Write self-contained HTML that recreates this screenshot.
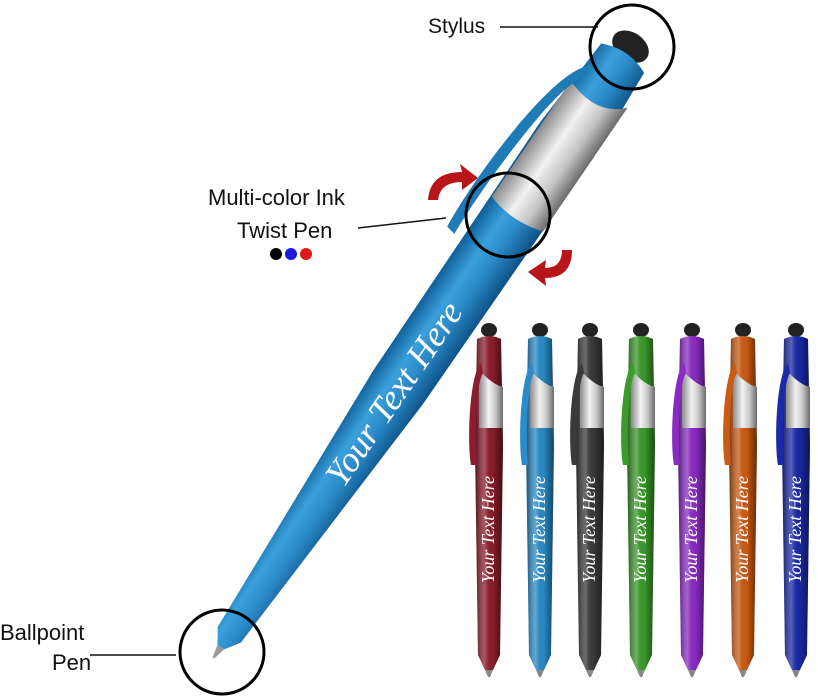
<!DOCTYPE html>
<html><head><meta charset="utf-8"><style>
html,body{margin:0;padding:0;background:#fff;}
svg{display:block;}
.lbl{font-family:"Liberation Sans",sans-serif;}
.pt{font-family:"Liberation Serif",serif;font-style:italic;fill:#fff;}
</style></head><body>
<svg width="818" height="700" viewBox="0 0 818 700" xmlns="http://www.w3.org/2000/svg">
<defs>
<linearGradient id="blue" x1="0" x2="1" y1="0" y2="0">
<stop offset="0" stop-color="#0d5c95"/><stop offset="0.35" stop-color="#3aa0dc"/><stop offset="0.6" stop-color="#2b8bc9"/><stop offset="1" stop-color="#0b4f82"/></linearGradient>
<linearGradient id="silver" x1="0" x2="1"><stop offset="0" stop-color="#8a8a8a"/><stop offset="0.4" stop-color="#f2f2f2"/><stop offset="0.7" stop-color="#c4c4c4"/><stop offset="1" stop-color="#6a6a6a"/></linearGradient>
<linearGradient id="shade" x1="0" x2="1"><stop offset="0" stop-color="#000" stop-opacity="0.45"/><stop offset="0.35" stop-color="#fff" stop-opacity="0.25"/><stop offset="0.6" stop-color="#000" stop-opacity="0"/><stop offset="1" stop-color="#000" stop-opacity="0.5"/></linearGradient>
<g id="mini">
 <ellipse cx="0" cy="5" rx="8" ry="7" fill="#222"/>
 <path d="M-12,14 Q0,8 12,14 L14,120 L11,330 L4,345 L-4,345 L-11,330 L-14,120 Z" fill="currentColor"/>
 <path d="M-12,14 Q0,8 12,14 L14,120 L11,330 L4,345 L-4,345 L-11,330 L-14,120 Z" fill="url(#shade)"/>
 <path d="M-10,45 Q4,60 14,62 L14,103 L-10,103 Z" fill="url(#silver)"/>
 <path d="M-8,38 C-20,50 -22,120 -18,140 L-12,140 C-14,120 -14,60 -6,48 Z" fill="currentColor"/>
 <path d="M-4,345 L4,345 L1,352 L-1,352 Z" fill="#888"/>
</g>
</defs>

<!-- main pen -->
<g transform="translate(635,40) rotate(34.3)">
 <ellipse cx="0" cy="8" rx="20" ry="14" fill="#222"/>
 <path d="M-26,22 Q0,10 26,22 L32,120 L30,420 L14,720 L4,735 L-4,735 L-14,720 L-30,420 L-32,120 Z" fill="url(#blue)"/>
 <path d="M-30,70 Q10,85 32,60 L32,210 Q0,220 -30,210 Z" fill="url(#silver)"/>
 <path d="M-20,45 C-50,60 -56,200 -50,260 L-40,262 C-44,200 -38,90 -26,70 Z" fill="#1f7ab8"/>
 <path d="M-4,735 L4,735 L1,748 L-1,748 Z" fill="#999"/>
 <text class="pt" x="-535" y="12" transform="rotate(-90)" font-size="36">Your Text Here</text>
</g>

<!-- mini pens -->
<g transform="translate(489,325)"><use href="#mini" color="#8c1c2c"/><text class="pt" x="-258" y="5" transform="rotate(-90)" font-size="18">Your Text Here</text></g>
<g transform="translate(540,325)"><use href="#mini" color="#2a8cc8"/><text class="pt" x="-258" y="5" transform="rotate(-90)" font-size="18">Your Text Here</text></g>
<g transform="translate(590,325)"><use href="#mini" color="#3a3a3a"/><text class="pt" x="-258" y="5" transform="rotate(-90)" font-size="18">Your Text Here</text></g>
<g transform="translate(641,325)"><use href="#mini" color="#3a9a2a"/><text class="pt" x="-258" y="5" transform="rotate(-90)" font-size="18">Your Text Here</text></g>
<g transform="translate(692,325)"><use href="#mini" color="#8a2ac4"/><text class="pt" x="-258" y="5" transform="rotate(-90)" font-size="18">Your Text Here</text></g>
<g transform="translate(743,325)"><use href="#mini" color="#cc5a12"/><text class="pt" x="-258" y="5" transform="rotate(-90)" font-size="18">Your Text Here</text></g>
<g transform="translate(796,325)"><use href="#mini" color="#1a2aa8"/><text class="pt" x="-258" y="5" transform="rotate(-90)" font-size="18">Your Text Here</text></g>

<!-- labels -->
<text class="lbl" x="428" y="33" font-size="21" fill="#111">Stylus</text>
<line x1="500" y1="27" x2="598" y2="27" stroke="#111" stroke-width="1.5"/>
<circle cx="632" cy="47" r="42" fill="none" stroke="#000" stroke-width="3"/>

<text class="lbl" x="208" y="205" font-size="22" fill="#111">Multi-color Ink</text>
<text class="lbl" x="237" y="238" font-size="22" fill="#111">Twist Pen</text>
<line x1="358" y1="228" x2="446" y2="218" stroke="#111" stroke-width="1.5"/>
<circle cx="508" cy="215" r="42" fill="none" stroke="#000" stroke-width="3"/>
<circle cx="276" cy="254" r="6" fill="#000"/>
<circle cx="291" cy="254" r="6" fill="#1a1ad8"/>
<circle cx="306" cy="254" r="6" fill="#e01818"/>
<path d="M428,200 Q430,172 462,172 L460,164 L478,178 L462,190 L462,182 Q440,182 438,200 Z" fill="#b8141a"/>
<path d="M572,250 Q572,278 545,278 L546,286 L528,272 L546,260 L545,268 Q562,268 562,250 Z" fill="#b8141a"/>

<text class="lbl" x="0" y="640" font-size="22" fill="#111">Ballpoint</text>
<text class="lbl" x="52" y="670" font-size="22" fill="#111">Pen</text>
<line x1="90" y1="655" x2="176" y2="655" stroke="#111" stroke-width="1.5"/>
<circle cx="222" cy="652" r="42" fill="none" stroke="#000" stroke-width="3"/>
</svg>
</body></html>
